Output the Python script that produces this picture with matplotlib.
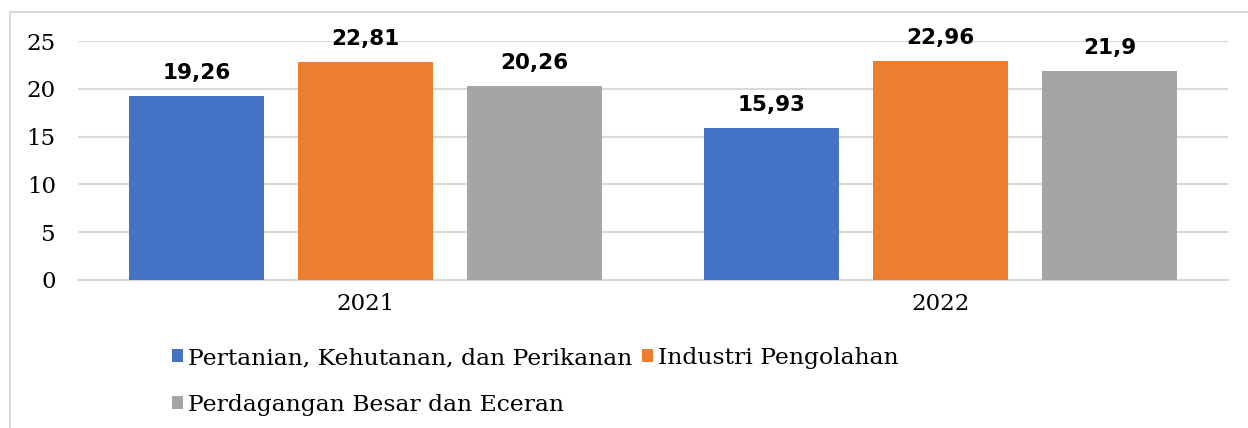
import matplotlib.pyplot as plt
from matplotlib.lines import Line2D
import numpy as np

# data
years = ["2021", "2022"]
sectors = [
    "Pertanian, Kehutanan, dan Perikanan",
    "Industri Pengolahan",
    "Perdagangan Besar dan Eceran",
]
pertanian = [19.26, 15.93]
industri = [22.81, 22.96]
perdagangan = [20.26, 21.9]
value_labels = [["19,26", "15,93"], ["22,81", "22,96"], ["20,26", "21,9"]]
colors = ["#4472C4", "#ED7D31", "#A5A5A5"]
yticks = [0, 5, 10, 15, 20, 25]

W, H = 1248, 428
fig = plt.figure(figsize=(W / 100, H / 100), dpi=100)
ax = fig.add_axes([78 / W, 1 - 280 / H, (1228 - 78) / W, (280 - 41) / H])

x = np.arange(len(years))
width = 0.235
step = 0.294
series = [pertanian, industri, perdagangan]
handles = []
for i, (vals, col) in enumerate(zip(series, colors)):
    pos = x + (i - 1) * step
    b = ax.bar(pos, vals, width, color=col, zorder=3, label=sectors[i])
    handles.append(b)
    for p, v, lab in zip(pos, vals, value_labels[i]):
        ax.annotate(lab, (p, v), xytext=(0, 13), textcoords="offset pixels",
                    ha="center", va="bottom", fontsize=15.5, fontweight="bold",
                    family="DejaVu Sans", annotation_clip=False)

ax.set_xlim(-0.5, 1.5)
ax.set_ylim(0, 25)
ax.set_yticks(yticks)
ax.set_yticklabels([str(t) for t in yticks], family="DejaVu Serif", fontsize=16.5)
ax.set_xticks(x)
ax.set_xticklabels(years, family="DejaVu Serif", fontsize=16.5)
ax.tick_params(length=0)
ax.tick_params(axis="y", pad=16)
ax.tick_params(axis="x", pad=9)
ax.grid(axis="y", color="#D9D9D9", linewidth=1.5, zorder=0)
for s in ["top", "right", "left"]:
    ax.spines[s].set_visible(False)
ax.spines["bottom"].set_color("#D9D9D9")
ax.spines["bottom"].set_linewidth(1.5)

# column-wise fill: blue + gray in first column, orange in second
leg_handles = [handles[0], handles[2], handles[1]]
fig.legend(handles=leg_handles, loc="upper left", bbox_to_anchor=(172 / W, 1 - 347 / H),
           ncol=2, frameon=False, prop={"family": "DejaVu Serif", "size": 16.9},
           handlelength=0.47, handleheight=0.47, handletextpad=0.22,
           columnspacing=0.42, labelspacing=1.05, borderpad=0, borderaxespad=0)

# outer chart border (partly cropped)
fig.add_artist(Line2D([10 / W, 10 / W], [0, 1 - 12 / H], color="#D9D9D9", linewidth=1.5))
fig.add_artist(Line2D([10 / W, 1], [1 - 12 / H, 1 - 12 / H], color="#D9D9D9", linewidth=1.5))

fig.savefig("out.png", dpi=100)
